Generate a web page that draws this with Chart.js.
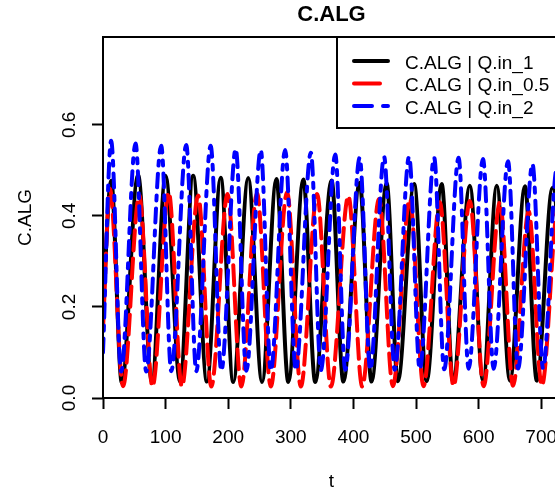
<!DOCTYPE html>
<html>
<head>
<meta charset="utf-8">
<script src="https://cdn.jsdelivr.net/npm/chart.js@4.4.1/dist/chart.umd.min.js"></script>
<style>
  html, body { margin: 0; padding: 0; background: #fff; overflow: hidden; }
  #wrap { width: 580px; height: 490px; }
</style>
</head>
<body>
<div id="wrap"><canvas id="myChart" width="580" height="490"></canvas></div>
<script>
// tick marks / labels
const xTicks = [0, 100, 200, 300, 400, 500, 600, 700];
const yTicks = [0, 0.2, 0.4, 0.6];
const yTickLabels = ["0.0", "0.2", "0.4", "0.6"];
const seriesNames = ["C.ALG | Q.in_1", "C.ALG | Q.in_0.5", "C.ALG | Q.in_2"];

// Q.in_1 (black) : start, then peak / trough pairs
const blackT = [0, 13, 30, 56, 78, 100, 123, 144, 166, 188, 208, 232, 254, 277, 296, 320, 339,
  365, 384, 410, 429, 453, 471, 497, 517, 541, 559, 586, 607, 629, 650, 674, 693, 718, 740];
const blackY = [0.20, 0.477, 0.034, 0.490, 0.037, 0.488, 0.036, 0.488, 0.036, 0.484, 0.035,
  0.483, 0.035, 0.481, 0.035, 0.480, 0.035, 0.478, 0.036, 0.473, 0.036, 0.472, 0.037, 0.470,
  0.037, 0.470, 0.037, 0.466, 0.038, 0.466, 0.038, 0.465, 0.038, 0.462, 0.038];

// Q.in_0.5 (red)
const redT = [0, 11, 32, 58, 79, 105, 126, 152, 173, 199, 221, 246, 268, 294, 316, 342, 364,
  392, 414, 441, 463, 490, 512, 538, 560, 586, 608, 634, 655, 680, 701, 727, 748];
const redY = [0.15, 0.46, 0.026, 0.445, 0.025, 0.452, 0.025, 0.445, 0.025, 0.448, 0.025,
  0.45, 0.025, 0.452, 0.025, 0.448, 0.025, 0.444, 0.025, 0.437, 0.026, 0.437, 0.026, 0.43,
  0.026, 0.433, 0.026, 0.43, 0.027, 0.41, 0.027, 0.42, 0.027];

// Q.in_2 (blue)
const blueT = [0, 13, 29, 52, 69, 93, 109, 133, 149, 172, 189, 212, 229, 252, 268, 291, 308,
  332, 348, 371, 387, 410, 427, 449, 466, 489, 506, 529, 545, 568, 584, 607, 624, 647, 663,
  686, 703, 725, 742];
const blueY = [0.10, 0.565, 0.058, 0.559, 0.058, 0.554, 0.059, 0.556, 0.059, 0.554, 0.060,
  0.547, 0.060, 0.545, 0.060, 0.545, 0.061, 0.539, 0.061, 0.535, 0.062, 0.528, 0.062, 0.530,
  0.062, 0.530, 0.063, 0.528, 0.063, 0.528, 0.064, 0.525, 0.064, 0.520, 0.065, 0.514, 0.065,
  0.505, 0.065];

function toPoints(ts, ys) {
  return ts.map((t, i) => ({ x: t, y: ys[i] }));
}

const fontName = "'Liberation Sans', Arial, sans-serif";
const legendDash = [[], [26, 20], [18, 11, 5, 11]];

// R style box, labels and legend
const rPlot = {
  id: "rPlot",
  afterDraw(chart) {
    const ctx = chart.ctx;
    const a = chart.chartArea;
    const xs = chart.scales.x;
    const ys = chart.scales.y;
    ctx.save();
    ctx.strokeStyle = "#000";
    ctx.lineWidth = 2;
    ctx.strokeRect(a.left, a.top, a.right - a.left, a.bottom - a.top);

    ctx.fillStyle = "#000";
    ctx.font = "19px " + fontName;
    ctx.textAlign = "center";
    ctx.textBaseline = "alphabetic";
    xTicks.forEach((v) => ctx.fillText(String(v), xs.getPixelForValue(v), 443));
    yTicks.forEach((v, i) => {
      ctx.save();
      ctx.translate(75, ys.getPixelForValue(v));
      ctx.rotate(-Math.PI / 2);
      ctx.fillText(yTickLabels[i], 0, 0);
      ctx.restore();
    });
    ctx.fillText("t", (a.left + a.right) / 2, 487);
    ctx.save();
    ctx.translate(31, (a.top + a.bottom) / 2);
    ctx.rotate(-Math.PI / 2);
    ctx.fillText("C.ALG", 0, 0);
    ctx.restore();

    ctx.font = "bold 22px " + fontName;
    ctx.fillText("C.ALG", (a.left + a.right) / 2, 21);

    // legend (topright)
    const lx = 337, ly = a.top, lb = 128;
    ctx.fillStyle = "#fff";
    ctx.fillRect(lx, ly, a.right - lx, lb - ly);
    ctx.strokeStyle = "#000";
    ctx.lineWidth = 2;
    ctx.strokeRect(lx, ly, a.right - lx, lb - ly);
    const rows = [61, 83.5, 106];
    chart.data.datasets.forEach((ds, i) => {
      ctx.beginPath();
      ctx.strokeStyle = ds.borderColor;
      ctx.lineWidth = 4;
      ctx.lineCap = "round";
      ctx.setLineDash(legendDash[i]);
      ctx.moveTo(354, rows[i]);
      ctx.lineTo(388, rows[i]);
      ctx.stroke();
      ctx.setLineDash([]);
      ctx.fillStyle = "#000";
      ctx.font = "19px " + fontName;
      ctx.textAlign = "left";
      ctx.fillText(seriesNames[i], 405, rows[i] + 7.5);
    });
    ctx.restore();
  },
};

const config = {
  type: "line",
  data: {
    datasets: [
      {
        label: seriesNames[0],
        data: toPoints(blackT, blackY),
        borderColor: "#000000",
        borderWidth: 4,
        order: 3,
      },
      {
        label: seriesNames[1],
        data: toPoints(redT, redY),
        borderColor: "#ff0000",
        borderWidth: 4,
        borderDash: [20, 8],
        order: 2,
      },
      {
        label: seriesNames[2],
        data: toPoints(blueT, blueY),
        borderColor: "#0000ff",
        borderWidth: 4,
        borderDash: [14, 8, 5, 8],
        order: 1,
      },
    ],
  },
  options: {
    responsive: false,
    animation: false,
    events: [],
    devicePixelRatio: 1,
    layout: { padding: { left: 103, top: 37, right: 20, bottom: 92 } },
    elements: {
      point: { radius: 0 },
      line: {
        cubicInterpolationMode: "monotone",
        borderCapStyle: "round",
        borderJoinStyle: "round",
        fill: false,
      },
    },
    scales: {
      x: {
        type: "linear",
        min: 0,
        max: 730,
        afterBuildTicks: (s) => { s.ticks = xTicks.map((v) => ({ value: v })); },
        afterFit: (s) => { s.height = 0; },
        ticks: { display: false },
        border: { display: false },
        grid: { drawOnChartArea: false, drawTicks: true, tickLength: 11, tickColor: "#000", tickWidth: 2 },
      },
      y: {
        type: "linear",
        min: 0,
        max: 0.793,
        afterBuildTicks: (s) => { s.ticks = yTicks.map((v) => ({ value: v })); },
        afterFit: (s) => { s.width = 0; },
        ticks: { display: false },
        border: { display: false },
        grid: { drawOnChartArea: false, drawTicks: true, tickLength: 11, tickColor: "#000", tickWidth: 2 },
      },
    },
    plugins: {
      legend: { display: false },
      title: { display: false },
      tooltip: { enabled: false },
    },
  },
  plugins: [rPlot],
};

const myChart = new Chart(document.getElementById("myChart"), config);
</script>
</body>
</html>
